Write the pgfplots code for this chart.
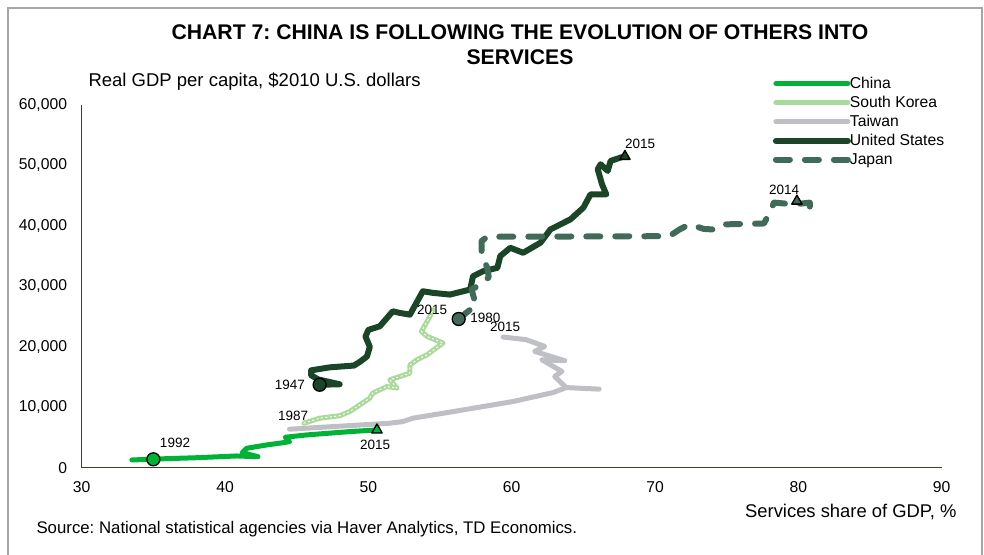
\documentclass[border=0pt]{standalone}
\usepackage{pgfplots}
\pgfplotsset{compat=1.18}
\usepackage{fontspec}
\setmainfont{Liberation Sans}
\frenchspacing
\definecolor{cChina}{HTML}{00B336}
\definecolor{cKorea}{HTML}{A9D99B}
\definecolor{cTaiwan}{HTML}{BFBFC6}
\definecolor{cUS}{HTML}{1B4527}
\definecolor{cJapan}{HTML}{3F6B58}
\definecolor{cAxis}{HTML}{3A3F2E}
\newcommand{\fs}[1]{\fontsize{#1bp}{1.2\dimexpr#1bp\relax}\selectfont}
\begin{document}
\begin{tikzpicture}
\useasboundingbox (0,0) rectangle (984bp,555bp);
% frame
\draw[gray!70, line width=1.2bp] (8bp,0bp) -- (8bp,547bp) -- (982bp,547bp) -- (982bp,0bp);
\node[font=\fs{21.2}\bfseries] at (520bp,523bp) {CHART 7: CHINA IS FOLLOWING THE EVOLUTION OF OTHERS INTO};
\node[font=\fs{21.2}\bfseries] at (520bp,498bp) {SERVICES};
\node[font=\fs{18.5}, anchor=west] at (85bp,473bp) {Real GDP per capita, \$2010 U.S. dollars};
\node[font=\fs{18.4}, anchor=east] at (960bp,43bp) {Services share of GDP, \%};
\node[font=\fs{16.8}, anchor=west] at (33bp,26bp) {Source: National statistical agencies via Haver Analytics, TD Economics.};
\begin{axis}[
  at={(81.7bp,87.3bp)}, anchor=origin,
  scale only axis, width=860bp, height=362.7bp,
  xmin=30, xmax=90, ymin=0, ymax=60000,
  axis x line*=bottom, axis y line*=left,
  axis line style={-, cAxis, line width=1.3bp},
  xtick={30,40,...,90}, ytick={0,10000,...,60000},
  major tick length=0pt,
  scaled y ticks=false,
  /pgf/number format/assume math mode=true,
  /pgf/number format/1000 sep={,},
  tick label style={font=\fs{15.7}},
  yticklabel style={anchor=east, inner sep=0pt, xshift=-14.5bp},
  xticklabel style={anchor=north, inner sep=0pt, yshift=-14bp},
  clip=false,
  every axis plot/.append style={line cap=round, line join=round},
  legend style={at={(0.8035,1.08)}, anchor=north west, draw=none, fill=none,
    font=\fs{15.7}, inner sep=0pt, row sep=4.2bp, column sep=-2bp,
    nodes={inner sep=1bp, anchor=west}},
  legend cell align=left,
  legend image code/.code={\draw[#1] (0bp,0bp) -- (72bp,0bp);},
]
\addplot[cChina, line width=5bp] coordinates {
(35.0,1390) (33.5,1280) (36,1500) (38,1650) (40.8,1940) (42.3,1820) (41.2,2490) (41.5,3210) (42.9,3760) (44.1,4150) (44.5,4310) (44.2,5040) (45.7,5420) (48.7,5970) (50.6,6250)};
\addlegendentry{China}
\addplot[cKorea, line width=5bp] coordinates {
(45.5,7360) (46.6,8190) (48.0,8600) (48.7,9290) (49.4,10400) (50.1,11500) (50.3,12340) (51.3,13430) (52.0,13170) (51.5,14540) (52.1,15000) (52.9,15650) (52.9,17000) (53.4,17860) (54.1,18690) (55.2,20630) (54.1,21720) (53.7,22550) (54.3,25040) (54.5,26150)};
\addlegendentry{South Korea}
\addplot[cTaiwan, line width=5bp] coordinates {
(44.5,6370) (51.5,7360) (52.4,7630) (53.1,8190) (55.5,9120) (60.1,10950) (62.9,12440) (63.8,13250) (66.1,13000) (63.8,13250) (63.0,15090) (63.5,15920) (62.1,17860) (63.7,17700) (61.6,19240) (62.3,20070) (61.0,21180) (59.4,21620)};
\addlegendentry{Taiwan}
\addplot[cUS, line width=6bp] coordinates {
(46.6,13720) (48.0,13800) (46.5,14600) (46.0,15300) (46.0,16100) (47.3,16600) (49.0,16900) (49.4,17500) (49.9,18400) (50.1,20000) (49.8,21700) (50.0,22800) (50.8,23400) (51.7,25870) (52.2,25600) (52.9,25320) (53.8,29190) (54.5,28920) (55.7,28640) (57.1,29470) (57.3,31670) (58.0,32500) (59.0,33060) (59.2,35000) (59.9,36380) (60.8,35550) (62.0,37210) (62.7,39420) (64.1,41080) (65.0,43020) (65.5,45220) (66.6,45220) (66.3,46880) (66.0,49370) (66.2,50200) (66.7,49090) (66.9,50750) (67.6,51310) (67.9,51500)};
\addlegendentry{United States}
\addplot[cJapan, line width=6bp, dash pattern=on 14bp off 15bp] coordinates {
(56.3,24600) (57.5,26900) (57.2,29500) (57.6,30000) (58.4,31500) (58.3,33000) (57.9,35500) (57.9,37500) (58.3,38200) (71.0,38300) (71.7,39400) (72.4,40250) (73.4,39500) (74.1,39400) (74.8,40250) (77.6,40400) (78.0,42200) (78.3,43850) (79.7,43570) (80.8,43850) (80.8,42740) (81.2,41360)};
\addlegendentry{Japan}
% Korea white dotted overlay
\addplot[white, line width=1bp, dash pattern=on 1.5bp off 3bp, forget plot] coordinates {
(45.5,7360) (46.6,8190) (48.0,8600) (48.7,9290) (49.4,10400) (50.1,11500) (50.3,12340) (51.3,13430) (52.0,13170) (51.5,14540) (52.1,15000) (52.9,15650) (52.9,17000) (53.4,17860) (54.1,18690) (55.2,20630) (54.1,21720) (53.7,22550) (54.3,25040) (54.5,26150)};
% start markers
\addplot[only marks, mark=*, mark size=6.5bp, mark options={fill=cChina, draw=black, line width=1.3bp}, forget plot] coordinates {(35.0,1390)};
\addplot[only marks, mark=*, mark size=6.5bp, mark options={fill=cUS, draw=black, line width=1.3bp}, forget plot] coordinates {(46.6,13720)};
\addplot[only marks, mark=*, mark size=6.5bp, mark options={fill=cJapan, draw=black, line width=1.3bp}, forget plot] coordinates {(56.3,24600)};
% end markers
\addplot[only marks, mark=triangle*, mark size=6bp, mark options={fill=cChina, draw=black, line width=1.3bp}, forget plot] coordinates {(50.6,6250)};
\addplot[only marks, mark=triangle*, mark size=6bp, mark options={fill=cUS, draw=black, line width=1.3bp}, forget plot] coordinates {(67.9,51500)};
\addplot[only marks, mark=triangle*, mark size=6bp, mark options={fill=cJapan, draw=black, line width=1.3bp}, forget plot] coordinates {(79.9,44100)};
% labels
\begin{scope}[every node/.style={font=\fs{13.5}, inner sep=0pt}]
\node at (axis cs:36.51,4096) {1992};
\node at (axis cs:50.47,3765) {2015};
\node at (axis cs:44.53,13715) {1947};
\node at (axis cs:44.75,8570) {1987};
\node at (axis cs:54.45,26150) {2015};
\node[anchor=west] at (axis cs:57.1,24825) {1980};
\node at (axis cs:59.54,23330) {2015};
\node at (axis cs:68.96,53520) {2015};
\node at (axis cs:79.0,46020) {2014};
\end{scope}
\end{axis}
\end{tikzpicture}
\end{document}
